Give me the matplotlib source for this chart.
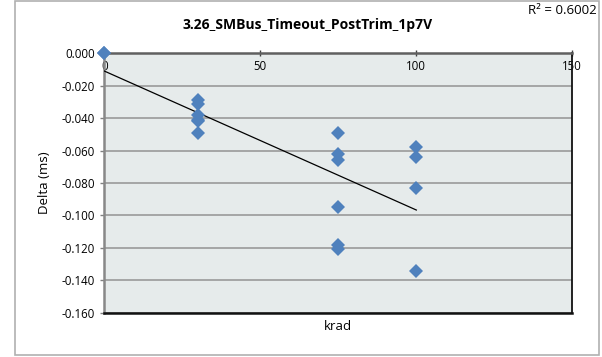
import numpy as np
import matplotlib
matplotlib.use("Agg")
import matplotlib.pyplot as plt
from matplotlib.patches import Rectangle

# data (two overlapping units at 0 krad)
krad = [0, 0, 30, 30, 30, 30, 30, 30,
        75, 75, 75, 75, 75, 75,
        100, 100, 100, 100]
delta = [0.000, 0.000, -0.029, -0.031, -0.038, -0.041, -0.042, -0.049,
         -0.049, -0.062, -0.066, -0.095, -0.118, -0.121,
         -0.058, -0.064, -0.083, -0.134]
x_ticks = [0, 50, 100, 150]
y_ticks = [0.000, -0.020, -0.040, -0.060, -0.080, -0.100, -0.120, -0.140, -0.160]
title = "3.26_SMBus_Timeout_PostTrim_1p7V"
r2_label = "R² = 0.6002"

plt.rcParams['font.family'] = ['Open Sans', 'DejaVu Sans']

fig = plt.figure(figsize=(6.02, 3.57), dpi=100)
ax = fig.add_axes((0.1733, 0.1241, 0.7774, 0.7266))
ax.set_facecolor('#E6EBEB')

# outer chart frame
fig.patches.append(Rectangle((15 / 602, 2 / 357), 584 / 602, 354 / 357, transform=fig.transFigure,
                             fill=False, edgecolor='#B0B0B0', linewidth=1.2))

ax.set_xlim(0, 150)
ax.set_ylim(-0.160, 0.0)
ax.set_yticks(y_ticks)
ax.set_yticklabels([f"{v:.3f}" for v in y_ticks], fontsize=8.3)
ax.set_xticks(x_ticks)
ax.set_xticklabels([str(v) for v in x_ticks], fontsize=8.3)
ax.grid(axis='y', color='#A0A0A0', linewidth=1.3)
ax.set_axisbelow(True)

# x axis crosses at y=0 (top), labels sit just below it
ax.xaxis.set_ticks_position('top')
ax.xaxis.set_label_position('bottom')
ax.tick_params(axis='x', direction='inout', length=5, width=1, color='#404040', pad=-17)
ax.tick_params(axis='y', direction='out', length=3, width=1, color='#808080', pad=4)

ax.spines['top'].set_color('#606060')
ax.spines['top'].set_linewidth(1.8)
ax.spines['left'].set_color('#888888')
ax.spines['left'].set_linewidth(1.8)
ax.spines['bottom'].set_color('#111111')
ax.spines['bottom'].set_linewidth(1.8)
ax.spines['right'].set_color('#111111')
ax.spines['right'].set_linewidth(1.3)

ax.plot(krad, delta, 'D', color='#4F81BD', markersize=7, markeredgewidth=0,
        clip_on=False, zorder=4)

# linear trendline
slope, icpt = np.polyfit(krad, delta, 1)
xs = np.array([0, max(krad)])
ax.plot(xs, slope * xs + icpt, color='black', linewidth=0.9, zorder=3)

fig.text(308 / 602, 1 - 25 / 357, title, ha='center', va='center', fontsize=10, fontweight='bold')
fig.text(597 / 602, 1 - 11 / 357, r2_label, ha='right', va='center', fontsize=9.5)
ax.set_xlabel("krad", fontsize=9.5, labelpad=5)
ax.set_ylabel("Delta (ms)", fontsize=9.5, labelpad=7)

fig.savefig("out.png", dpi=100)
